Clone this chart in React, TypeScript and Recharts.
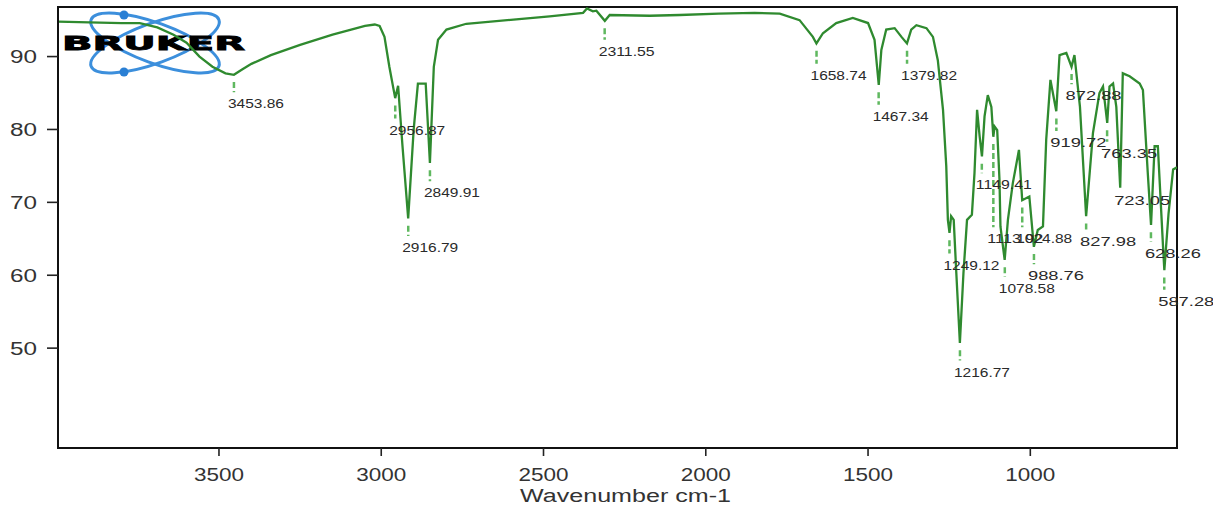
import React from 'react';
import {
  ComposedChart,
  Line,
  XAxis,
  YAxis,
  ReferenceLine,
  ReferenceDot,
  ReferenceArea,
  Label,
} from 'recharts';

const WAVENUMBERS = [
  3996, 3900, 3800, 3744, 3690, 3640, 3600, 3560, 3520, 3480, 3454, 3430, 3400, 3340, 3250, 3150,
  3050, 3020, 3005, 2990, 2975, 2957, 2948, 2935, 2917, 2900, 2887, 2863, 2850, 2838, 2825, 2799,
  2738, 2584, 2481, 2378, 2366, 2348, 2337, 2311, 2296, 2173, 2080, 1960, 1850, 1772, 1711, 1670,
  1659, 1639, 1598, 1547, 1500, 1480, 1467, 1459, 1444, 1418, 1397, 1380, 1367, 1351, 1320, 1300,
  1285, 1269, 1259, 1254, 1249, 1244, 1236, 1228, 1217, 1206, 1195, 1180, 1172, 1164, 1156, 1149,
  1141, 1131, 1120, 1114, 1110, 1102, 1095, 1092, 1079, 1069, 1054, 1035, 1025, 1003, 989, 977,
  961, 951, 938, 920, 910, 889, 873, 864, 847, 828, 807, 787, 776, 763, 756, 745, 735, 723, 715,
  694, 663, 653, 638, 628, 617, 607, 591, 587, 574, 560, 548,
];

const TRANSMITTANCE = [
  94.8, 94.7, 94.6, 94.6, 94.0, 93.0, 91.9, 90.0, 88.6, 87.7, 87.5, 88.2, 89.0, 90.2, 91.6, 93.0,
  94.2, 94.4, 94.2, 92.7, 88.6, 84.3, 86.0, 78.0, 67.8, 80.0, 86.3, 86.3, 75.4, 88.6, 92.3, 93.7,
  94.5, 95.1, 95.5, 96.0, 96.6, 96.2, 96.3, 94.9, 95.7, 95.6, 95.7, 95.9, 96.0, 95.9, 95.0, 92.7,
  91.8, 93.2, 94.6, 95.3, 94.6, 92.3, 86.1, 90.9, 93.7, 93.9, 92.7, 91.8, 93.7, 94.3, 93.9, 92.7,
  89.5, 82.7, 75.0, 67.6, 65.8, 68.1, 67.6, 60.3, 50.7, 60.3, 67.6, 68.3, 74.0, 82.7, 79.0, 76.3,
  81.8, 84.7, 83.1, 79.0, 80.4, 79.9, 73.1, 66.7, 62.1, 67.6, 72.6, 77.2, 70.3, 70.8, 63.9, 66.2,
  66.7, 78.6, 86.8, 82.5, 90.2, 90.5, 88.6, 90.2, 83.1, 68.1, 79.5, 85.0, 85.9, 80.9, 85.9, 86.3,
  83.1, 72.0, 87.7, 87.3, 86.3, 85.4, 74.0, 66.9, 77.7, 77.7, 63.9, 60.7, 68.5, 74.5, 74.8,
];

const PEAK_WAVENUMBERS = [
  3453.86, 2956.87, 2916.79, 2849.91, 2311.55, 1658.74, 1467.34, 1379.82, 1249.12, 1216.77,
  1149.41, 1113.92, 1078.58, 1024.88, 988.76, 919.72, 872.88, 827.98, 763.35, 723.05, 628.26,
  587.28,
];
const PEAK_DEPTHS = [
  87.5, 84.3, 67.8, 75.4, 94.9, 91.8, 86.1, 91.8, 65.8, 50.7, 76.3, 79.0, 62.1, 70.3, 63.9, 82.5,
  88.6, 68.1, 80.9, 72.0, 66.9, 60.7,
];
const PEAK_LABEL_LEVELS = [
  83.5, 79.9, 63.8, 71.3, 90.7, 87.4, 81.8, 87.4, 61.4, 46.7, 72.4, 65.0, 58.2, 65.0, 59.9, 78.2,
  84.6, 64.6, 76.7, 70.3, 63.0, 56.4,
];

const X_TICKS = [3500, 3000, 2500, 2000, 1500, 1000];
const Y_TICKS = [50, 60, 70, 80, 90];
const X_DOMAIN = [548, 3996];
const Y_DOMAIN = [36.3, 96.8];
const X_TITLE = 'Wavenumber cm-1';

const spectrum = WAVENUMBERS.map((w, i) => ({ w, t: TRANSMITTANCE[i] }));
const peaks = PEAK_WAVENUMBERS.map((w, i) => ({
  w,
  depth: PEAK_DEPTHS[i],
  level: PEAK_LABEL_LEVELS[i],
  text: w.toFixed(2),
}));

const FONT = 'Liberation Sans, Arial, sans-serif';
const LINE_GREEN = '#2f8a2f';
const LEADER_GREEN = '#5fb85f';

const XTick = (props: any) => {
  const { x, y, payload } = props;
  return (
    <text
      x={x}
      y={y + 23}
      textAnchor="middle"
      fontSize={18}
      fontFamily={FONT}
      fill="#333"
      textLength={50}
      lengthAdjust="spacingAndGlyphs"
    >
      {payload.value}
    </text>
  );
};

const YTick = (props: any) => {
  const { x, y, payload } = props;
  return (
    <text
      x={x}
      y={y + 6.5}
      textAnchor="end"
      fontSize={18}
      fontFamily={FONT}
      fill="#333"
      textLength={27}
      lengthAdjust="spacingAndGlyphs"
    >
      {payload.value}
    </text>
  );
};

const Logo = () => (
  <svg width={1213} height={508} style={{ position: 'absolute', left: 0, top: 0 }}>
    <g>
      <ellipse
        cx={155}
        cy={43}
        rx={68}
        ry={20}
        fill="none"
        stroke="#3c8fdc"
        strokeWidth={3}
        transform="rotate(20 155 43)"
      />
      <ellipse
        cx={155}
        cy={43}
        rx={68}
        ry={20}
        fill="none"
        stroke="#3c8fdc"
        strokeWidth={3}
        transform="rotate(-20 155 43)"
      />
      <circle cx={124} cy={15} r={4.5} fill="#2a7fd4" />
      <circle cx={124} cy={72} r={4.5} fill="#2a7fd4" />
      <text
        x={62}
        y={50}
        fontSize={19}
        fontWeight={900}
        fontFamily="DejaVu Sans, Liberation Sans, Arial, sans-serif"
        fill="#000"
        stroke="#000"
        strokeWidth={0.8}
        textLength={183}
        lengthAdjust="spacingAndGlyphs"
      >
        BRUKER
      </text>
    </g>
  </svg>
);

export default function App() {
  return (
    <div
      style={{
        position: 'absolute',
        left: 0,
        top: 0,
        width: 1213,
        height: 508,
        background: '#fff',
        overflow: 'hidden',
      }}
    >
      <Logo />
      <div style={{ position: 'absolute', left: 0, top: 0 }}>
        <ComposedChart
          width={1213}
          height={508}
          data={spectrum}
          margin={{ top: 7, right: 36, bottom: 0, left: 0 }}
        >
          <XAxis
            type="number"
            dataKey="w"
            domain={X_DOMAIN}
            reversed
            allowDataOverflow
            ticks={X_TICKS}
            interval={0}
            height={60}
            tickSize={8}
            tickMargin={2}
            tick={<XTick />}
            axisLine={{ stroke: '#111', strokeWidth: 2 }}
            tickLine={{ stroke: '#222', strokeWidth: 1.6 }}
          >
            <Label
              content={(p: any) => {
                const vb = p.viewBox || { x: 58, y: 448, width: 1119, height: 60 };
                return (
                  <text
                    x={vb.x + vb.width / 2 + 8}
                    y={vb.y + 54}
                    textAnchor="middle"
                    fontSize={18}
                    fontFamily={FONT}
                    fill="#333"
                    textLength={211}
                    lengthAdjust="spacingAndGlyphs"
                  >
                    {X_TITLE}
                  </text>
                );
              }}
            />
          </XAxis>
          <YAxis
            type="number"
            domain={Y_DOMAIN}
            allowDataOverflow
            ticks={Y_TICKS}
            interval={0}
            width={58}
            tickSize={11}
            tickMargin={10}
            tick={<YTick />}
            axisLine={{ stroke: '#111', strokeWidth: 2 }}
            tickLine={{ stroke: '#222', strokeWidth: 1.6 }}
          />
          <ReferenceArea
            x1={X_DOMAIN[0]}
            x2={X_DOMAIN[1]}
            y1={Y_DOMAIN[0]}
            y2={Y_DOMAIN[1]}
            fill="none"
            fillOpacity={0}
            stroke="#111"
            strokeWidth={2}
            ifOverflow="visible"
          />
          {peaks
            .filter((p) => p.depth - 1.0 > p.level + 1.6)
            .map((p) => (
              <ReferenceLine
                key={`lead-${p.text}`}
                segment={[
                  { x: p.w, y: p.depth - 1.0 },
                  { x: p.w, y: p.level + 1.6 },
                ]}
                stroke={LEADER_GREEN}
                strokeWidth={2.5}
                strokeDasharray="6 3"
              />
            ))}
          <Line
            type="linear"
            dataKey="t"
            stroke={LINE_GREEN}
            strokeWidth={2.3}
            dot={false}
            activeDot={false}
            isAnimationActive={false}
          />
          {peaks.map((p) => (
            <ReferenceDot
              key={`lab-${p.text}`}
              x={p.w}
              y={p.level}
              r={0}
              ifOverflow="visible"
              shape={(sp: any) => (
                <text
                  x={sp.cx - 6}
                  y={sp.cy + 4.5}
                  fontSize={13}
                  fontFamily={FONT}
                  fill="#2a2a2a"
                  textLength={56}
                  lengthAdjust="spacingAndGlyphs"
                >
                  {p.text}
                </text>
              )}
            />
          ))}
        </ComposedChart>
      </div>
    </div>
  );
}
